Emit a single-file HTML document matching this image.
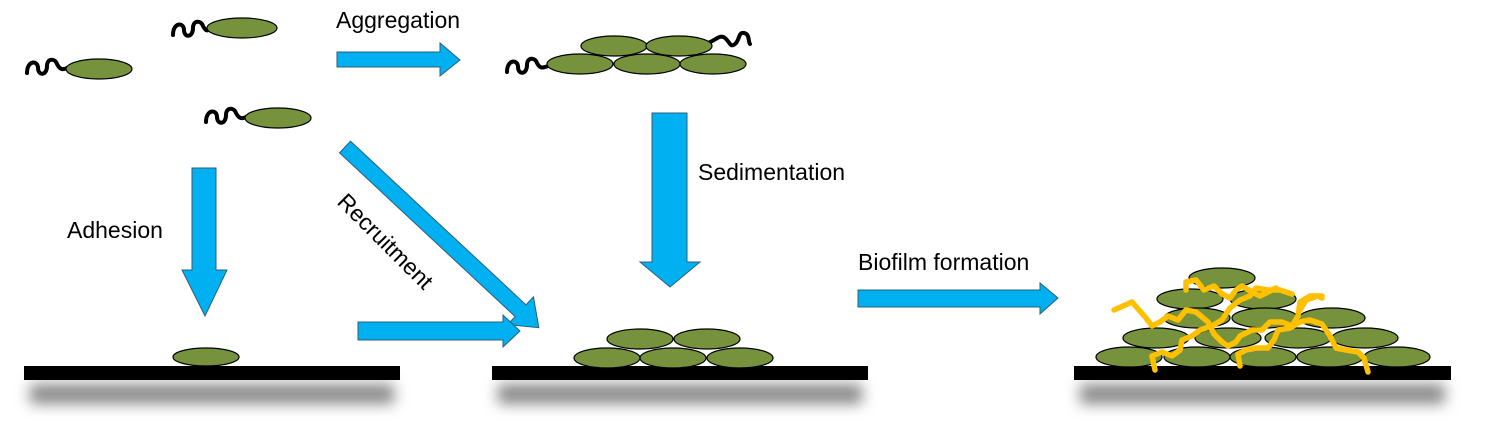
<!DOCTYPE html>
<html><head><meta charset="utf-8"><style>
html,body{margin:0;padding:0;background:#fff;}
svg{display:block;}
text{font-family:"Liberation Sans",sans-serif;font-size:23px;fill:#000;}
</style></head><body>
<svg width="1487" height="429" viewBox="0 0 1487 429" xmlns="http://www.w3.org/2000/svg">
<defs>
<filter id="bl" x="-10%" y="-200%" width="120%" height="500%"><feGaussianBlur stdDeviation="7"/></filter>
</defs>
<g fill="#00b0f0" stroke="#2c5f7a" stroke-width="1">
<polygon points="337,52 440,52 440,43 460,60 440,76 440,67 337,67"/>
<polygon points="652,113 687,113 687,262 700,262 670,287 640,262 652,262"/>
<polygon points="192,168 216,168 216,270 227,270 205,316 182,270 192,270"/>
<g transform="translate(345,147) rotate(43)">
<polygon points="0,-8 240,-8 240,-19 265,0 240,19 240,8 0,8"/>
</g>
<polygon points="358,322 503,322 503,315 520,331 503,347 503,340 358,340"/>
<polygon points="858,290 1040,290 1040,283 1058,298 1040,314 1040,307 858,307"/>
</g>
<text x="336" y="28">Aggregation</text>
<text x="698" y="180">Sedimentation</text>
<text x="67" y="238">Adhesion</text>
<text x="858" y="270">Biofilm formation</text>
<text transform="translate(336,203) rotate(45)">Recruitment</text>

<g fill="#8a8a8a" filter="url(#bl)">
<rect x="30" y="384" width="364" height="20"/>
<rect x="498" y="384" width="364" height="20"/>
<rect x="1080" y="384" width="365" height="20"/>
</g>
<g fill="#000">
<rect x="24" y="366" width="376" height="14"/>
<rect x="492" y="366" width="376" height="14"/>
<rect x="1074" y="366" width="377" height="14"/>
</g>

<g fill="none" stroke="#000" stroke-width="4" stroke-linecap="round">
<path d="M27,73 C27,60 38,60 38,68 C38,76 47,76 47,66 C47,58 55,58 57,64 C60,70 63,70 67,68"/>
<path d="M173,35 C173,22 184,22 184,30 C184,38 193,38 193,28 C193,20 201,20 203,26 C206,32 208,31 210,28"/>
<path d="M206,122 C206,109 217,109 217,117 C217,125 226,125 226,115 C226,107 234,107 236,113 C239,119 242,119 246,117"/>
<path d="M507,72 C507,59 518,59 518,67 C518,75 527,75 527,65 C527,57 535,57 537,63 C540,69 543,68 548,66"/>
<path d="M710,42 C716,40 720,34 725,38 C730,42 730,48 735,44 C740,40 738,32 744,33 C750,34 748,42 750,44"/>
</g>

<g fill="#76923c" stroke="#000" stroke-width="1.2">
<ellipse cx="99" cy="69" rx="33" ry="10"/>
<ellipse cx="242" cy="28" rx="35" ry="10"/>
<ellipse cx="278" cy="118" rx="33" ry="10"/>
<ellipse cx="614" cy="46" rx="33" ry="10"/>
<ellipse cx="679" cy="46" rx="33" ry="10"/>
<ellipse cx="580" cy="64" rx="33" ry="10"/>
<ellipse cx="647" cy="64" rx="33" ry="10"/>
<ellipse cx="713" cy="64" rx="33" ry="10"/>
<ellipse cx="206" cy="357" rx="33" ry="9"/>
<ellipse cx="640" cy="339" rx="33" ry="10"/>
<ellipse cx="707" cy="339" rx="33" ry="10"/>
<ellipse cx="607" cy="358" rx="33" ry="10"/>
<ellipse cx="673" cy="358" rx="33" ry="10"/>
<ellipse cx="740" cy="358" rx="33" ry="10"/>
<ellipse cx="1222" cy="278" rx="33" ry="10"/>
<ellipse cx="1190" cy="299" rx="33" ry="10"/>
<ellipse cx="1263" cy="299" rx="33" ry="10"/>
<ellipse cx="1197" cy="318" rx="33" ry="10"/>
<ellipse cx="1265" cy="318" rx="33" ry="10"/>
<ellipse cx="1332" cy="318" rx="33" ry="10"/>
<ellipse cx="1156" cy="338" rx="33" ry="10"/>
<ellipse cx="1228" cy="338" rx="33" ry="10"/>
<ellipse cx="1298" cy="338" rx="33" ry="10"/>
<ellipse cx="1365" cy="338" rx="33" ry="10"/>
<ellipse cx="1129" cy="357" rx="33" ry="10"/>
<ellipse cx="1197" cy="357" rx="33" ry="10"/>
<ellipse cx="1263" cy="357" rx="33" ry="10"/>
<ellipse cx="1330" cy="357" rx="33" ry="10"/>
<ellipse cx="1397" cy="357" rx="33" ry="10"/>
</g>

<g fill="none" stroke="#ffc000" stroke-width="5.5" stroke-linejoin="round" stroke-linecap="round">
<path d="M1114,310 L1132,302 L1146,318 L1152,326 L1160,322 L1168,316 L1178,320 L1186,310 L1196,312 L1208,322 L1214,334 L1222,342 L1228,346 L1236,342 L1240,336 L1252,330 L1262,330 L1270,322 L1282,322 L1292,326 L1298,316 L1300,302 L1310,296 L1322,296"/>
<path d="M1155,370 L1152,356 L1162,352 L1172,356 L1180,350 L1182,340 L1192,336 L1200,330 L1212,326 L1222,320 L1230,308 L1240,300 L1250,296 L1256,288 L1268,290 L1280,290 L1292,294"/>
<path d="M1186,290 L1186,282 L1196,280 L1204,290 L1214,286 L1222,294 L1230,298 L1236,290 L1242,286 L1252,292 L1260,296 L1268,292 L1276,288"/>
<path d="M1240,366 L1238,354 L1246,350 L1256,348 L1268,348 L1274,340 L1278,330 L1290,328 L1300,322 L1310,320 L1322,324 L1330,336 L1336,348 L1346,350 L1358,352 L1364,358 L1368,372"/>
<path d="M1300,310 L1306,300 L1318,296 L1322,298"/>
</g>
</svg>
</body></html>
